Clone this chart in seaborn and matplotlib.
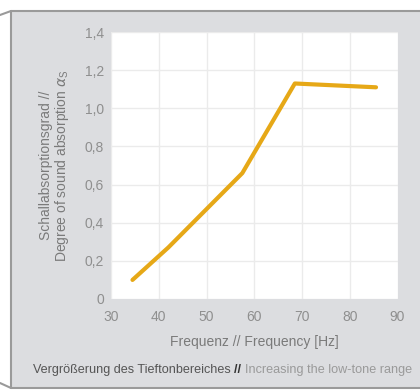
import matplotlib.pyplot as plt
import matplotlib.ticker as mticker
from matplotlib.lines import Line2D
import numpy as np
import pandas as pd
import seaborn as sns

# Values
frequency = [34.5, 42, 57.5, 68.5, 85.5]
absorption = [0.10, 0.27, 0.66, 1.13, 1.11]
x_ticks = [30, 40, 50, 60, 70, 80, 90]
y_ticks = [0, 0.2, 0.4, 0.6, 0.8, 1.0, 1.2, 1.4]

df = pd.DataFrame({'freq': frequency, 'alpha': absorption})

sns.set_theme(style='white')
plt.rcParams['font.family'] = ['Liberation Sans', 'DejaVu Sans']

panel = '#dcdde0'
fig = plt.figure(figsize=(4.2, 3.91), dpi=100)
fig.patch.set_facecolor('white')

# grey panel with a dark edge and folded corners
fig.patches.append(plt.Rectangle((11 / 420, 3 / 391), 409 / 420, 377 / 391,
                                 transform=fig.transFigure, facecolor=panel,
                                 edgecolor='none', zorder=-2))
edge = '#9a9a9a'
for xs, ys in [([11, 420], [380, 380]), ([11, 11], [380, 3]), ([11, 420], [3, 3]),
               ([11, 0], [380, 376]), ([11, 0], [3, 8])]:
    fig.lines.append(Line2D([x / 420 for x in xs], [y / 391 for y in ys],
                            transform=fig.transFigure, color=edge, lw=1.5))

ax = fig.add_axes([111 / 420, 1 - 299 / 391, 286.5 / 420, 267 / 391])
ax.set_facecolor('white')
sns.lineplot(data=df, x='freq', y='alpha', color='#e6a817', lw=3, ax=ax)

ax.set_xlim(30, 90)
ax.set_ylim(0, 1.4)
ax.set_xticks(x_ticks)
ax.set_yticks(y_ticks)
ax.yaxis.set_major_formatter(mticker.FuncFormatter(
    lambda v, p: '0' if v == 0 else f'{v:.1f}'.replace('.', ',')))
ax.grid(True, color='#ebebeb', lw=1)
for s in ax.spines.values():
    s.set_visible(False)
ax.tick_params(colors='#8f8f8f', labelsize=10, length=0, pad=5)
ax.tick_params(axis='x', pad=8)
ax.set_xlabel('Frequenz // Frequency [Hz]', color='#7a7a7a', fontsize=10, labelpad=8)
ax.set_ylabel('Schallabsorptionsgrad //\nDegree of sound absorption $\\alpha_\\mathregular{S}$',
              color='#7a7a7a', fontsize=10, labelpad=10, linespacing=1.0)

# caption: three pieces placed one after another
parts = [('Vergrößerung des Tieftonbereiches ', '#555555', 'normal'),
         ('// ', '#333333', 'bold'),
         ('Increasing the low-tone range', '#9a9a9a', 'normal')]
fig.canvas.draw()
renderer = fig.canvas.get_renderer()
x_px = 33
for txt, col, wt in parts:
    t = fig.text(x_px / 420, 1 - 370 / 391, txt, color=col, fontsize=9.1,
                 fontweight=wt, va='center', ha='left')
    x_px += t.get_window_extent(renderer).width

fig.savefig('out.png', dpi=100)
